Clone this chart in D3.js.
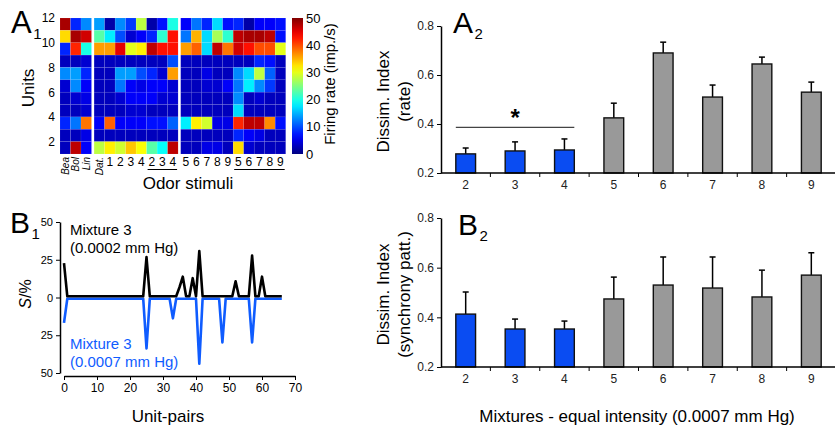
<!DOCTYPE html>
<html><head><meta charset="utf-8">
<script src="https://cdn.jsdelivr.net/npm/d3@7"></script>
<style>
body{margin:0;background:#fff;}
svg{font-family:Arial,"Liberation Sans",sans-serif;}
</style></head><body>
<svg id="fig" width="835" height="430"></svg>
<script>
// A1 heatmap: odor stimuli x units
const stimuli = ["Bea","Bol","Lin","Dat.","1","2","3","4","2","3","4","5","6","7","8","9","5","6","7","8","9"];
const stimulusGroup = [0,0,0,1,1,1,1,1,1,1,1,2,2,2,2,2,2,2,2,2,2];
const units = [11,10,9,8,7,6,5,4,3,2,1];
const firingRates = [
  [48,8,13, 14,2,13,9,28,2,7,20, 6,12,8,17,7,8,2,6,6,7],
  [33,48,46, 23,18,10,4,6,8,21,43, 12,35,17,27,21,47,48,48,47,7],
  [8,42,20, 36,36,45,30,32,47,43,43, 36,39,17,47,38,46,43,40,40,30],
  [3,3,4, 3,3,3,3,3,3,3,10, 3,3,3,3,3,3,3,8,7,3],
  [13,14,8, 3,3,14,14,10,8,4,36, 3,3,5,3,3,13,17,28,11,3],
  [4,13,6, 3,3,12,6,5,6,6,4, 3,3,4,4,6,12,18,13,9,3],
  [3,4,5, 3,3,4,6,6,6,4,4, 3,3,3,3,3,13,3,4,3,3],
  [3,3,4, 3,3,3,4,4,3,3,3, 3,3,3,3,3,17,3,3,3,3],
  [8,12,38, 6,39,6,6,6,7,7,11, 18,32,29,5,5,42,47,47,37,7],
  [3,3,5, 3,3,3,3,3,3,3,3, 3,3,3,3,3,8,6,5,3,3],
  [3,47,6, 28,32,29,34,31,23,19,47, 3,3,5,5,3,33,4,3,3,3]
];
const unitTicks = [2,4,6,8,10,12];
const colorTicks = [0,10,20,30,40,50];

// B1 synchrony per unit pair
const syncLow = [22, 0,0,0,0,0,0,0,0,0,0, 0,0,0,0,0,0,0,0,0,0, 0,0,0,0, 26, 0,0,0,0,0,0,0,0,0,
  6,13,0,0,12,0,30, 0,0,0,0,0,0,0,0,0,0, 10, 0,0,0,0, 27, 0,0, 13, 0,0,0,0,0,0];
const syncHigh = [16, 0,0,0,0,0,0,0,0,0,0, 0,0,0,0,0,0,0,0,0,0, 0,0,0,0, 33, 0,0,0,0,0,0,0, 13,
  0,0,0,0,0,0,0, 43, 0,0,0,0,0,0, 29, 0,0,0,0,0,0,0,0, 29, 0,0,0,0,0,0,0,0,0];
const pairTicks = [0,10,20,30,40,50,60,70];
const sTicks = [-50,-25,0,25,50];

// A2 / B2 dissimilarity indices
const mixtures = ["2","3","4","5","6","7","8","9"];
const rateMean = [0.278,0.29,0.294,0.425,0.69,0.51,0.645,0.53];
const rateSem  = [0.024,0.037,0.045,0.06,0.044,0.049,0.028,0.041];
const syncMean = [0.413,0.353,0.353,0.474,0.53,0.518,0.482,0.57];
const syncSem  = [0.089,0.04,0.032,0.088,0.113,0.125,0.108,0.09];
const dissimTicks = [0.2,0.4,0.6,0.8];

const svg = d3.select("#fig");

function jet(t) {
  const c = v => Math.round(255 * Math.max(0, Math.min(1, v)));
  return `rgb(${c(1.5 - Math.abs(4*t - 3))},${c(1.5 - Math.abs(4*t - 2))},${c(1.5 - Math.abs(4*t - 1))})`;
}
const color = d3.scaleSequential(jet).domain([0, 50]);

function panelLetter(letter, sub, x, y, size) {
  svg.append("text").attr("x", x).attr("y", y).attr("font-size", size).text(letter);
  svg.append("text").attr("x", x + size * 0.72).attr("y", y + 6).attr("font-size", 15).text(sub);
}

// ---------- A1 heatmap ----------
const cw = 10.5, gap = 2.6, hx0 = 60;
const colX = i => hx0 + i * cw + stimulusGroup[i] * gap;
const yUnit = d3.scaleLinear().domain([1, 12]).range([154, 18]);

const hm = svg.append("g");
firingRates.forEach((row, r) => {
  hm.selectAll(null).data(row).enter().append("rect")
    .attr("x", (d, i) => colX(i))
    .attr("y", yUnit(units[r] + 1))
    .attr("width", cw)
    .attr("height", yUnit(units[r]) - yUnit(units[r] + 1))
    .attr("fill", d => color(d))
    .attr("stroke", "rgba(255,255,255,0.15)")
    .attr("stroke-width", 0.5);
});

svg.append("g").attr("transform", "translate(57,0)")
  .call(d3.axisLeft(yUnit).tickValues(unitTicks).tickSize(0).tickPadding(2))
  .call(g => g.select(".domain").remove())
  .call(g => g.selectAll("text").attr("font-size", 12).attr("fill", "#000"));

svg.append("text").attr("transform", "translate(34,88) rotate(-90)")
  .attr("text-anchor", "middle").attr("font-size", 17).text("Units");
panelLetter("A", "1", 11, 33, 31);

// stimulus labels
stimuli.forEach((s, i) => {
  if (i < 4) {
    svg.append("text").attr("transform", `translate(${colX(i) + cw/2 + 3.5},157) rotate(-90)`)
      .attr("text-anchor", "end").attr("font-size", 10).attr("font-style", "italic").text(s);
  } else {
    svg.append("text").attr("x", colX(i) + cw/2).attr("y", 166)
      .attr("text-anchor", "middle").attr("font-size", 12).text(s);
  }
});
[[8, 10], [16, 20]].forEach(([a, b]) => {
  svg.append("line").attr("x1", colX(a) + 1).attr("x2", colX(b) + cw - 1)
    .attr("y1", 169.5).attr("y2", 169.5).attr("stroke", "#000").attr("stroke-width", 1);
});
svg.append("text").attr("x", 188).attr("y", 189).attr("text-anchor", "middle")
  .attr("font-size", 17).text("Odor stimuli");

// colorbar
const defs = svg.append("defs");
const grad = defs.append("linearGradient").attr("id", "jetgrad")
  .attr("x1", 0).attr("y1", 1).attr("x2", 0).attr("y2", 0);
d3.range(0, 1.0001, 0.05).forEach(t => {
  grad.append("stop").attr("offset", t).attr("stop-color", jet(t));
});
const yCb = d3.scaleLinear().domain([0, 50]).range([154, 18]);
svg.append("rect").attr("x", 292).attr("y", yCb(50)).attr("width", 11)
  .attr("height", yCb(0) - yCb(50)).attr("fill", "url(#jetgrad)");
svg.append("g").attr("transform", "translate(305,0)")
  .call(d3.axisRight(yCb).tickValues(colorTicks).tickSize(0).tickPadding(1))
  .call(g => g.select(".domain").remove())
  .call(g => g.selectAll("text").attr("font-size", 13).attr("fill", "#000"));
svg.append("text").attr("transform", "translate(335,84) rotate(-90)")
  .attr("text-anchor", "middle").attr("font-size", 15).text("Firing rate (imp./s)");

// ---------- B1 synchrony lines ----------
const xPair = d3.scaleLinear().domain([0, 70]).range([64, 295]);
const yS = d3.scaleLinear().domain([-50, 50]).range([373, 222]);

svg.append("g").attr("transform", "translate(60,0)")
  .call(d3.axisLeft(yS).tickValues(sTicks).tickSize(4).tickSizeOuter(0).tickFormat(d => Math.abs(d)))
  .call(g => g.select(".domain").attr("stroke-width", 1.5))
  .call(g => g.selectAll("text").attr("font-size", 11).attr("fill", "#000"));
svg.append("g").attr("transform", "translate(0,376)")
  .call(d3.axisBottom(xPair).tickValues(pairTicks).tickSize(4).tickSizeOuter(0))
  .call(g => g.select(".domain").attr("stroke-width", 1.5))
  .call(g => g.selectAll("text").attr("font-size", 12).attr("fill", "#000"));

const lineLow = d3.line().x((d, i) => xPair(i)).y(d => yS(d) - 1.2);
const lineHigh = d3.line().x((d, i) => xPair(i)).y(d => yS(-d) + 1.2);
svg.append("path").datum(syncHigh).attr("d", lineHigh)
  .attr("fill", "none").attr("stroke", "#0f5cff").attr("stroke-width", 2.6).attr("stroke-linejoin", "round");
svg.append("path").datum(syncLow).attr("d", lineLow)
  .attr("fill", "none").attr("stroke", "#000").attr("stroke-width", 2.6).attr("stroke-linejoin", "round");

svg.append("text").attr("x", 70).attr("y", 235).attr("font-size", 15).text("Mixture 3");
svg.append("text").attr("x", 70).attr("y", 253).attr("font-size", 15).text("(0.0002 mm Hg)");
svg.append("text").attr("x", 70).attr("y", 349).attr("font-size", 15).attr("fill", "#0f5cff").text("Mixture 3");
svg.append("text").attr("x", 70).attr("y", 367).attr("font-size", 15).attr("fill", "#0f5cff").text("(0.0007 mm Hg)");

const sLabel = svg.append("text").attr("transform", "translate(31,294) rotate(-90)")
  .attr("text-anchor", "middle").attr("font-size", 16);
sLabel.append("tspan").attr("font-style", "italic").text("S");
sLabel.append("tspan").text("/%");
panelLetter("B", "1", 10, 233, 30);
svg.append("text").attr("x", 168).attr("y", 422).attr("text-anchor", "middle")
  .attr("font-size", 17).text("Unit-pairs");

// ---------- A2 / B2 bar charts ----------
const xMix = d3.scaleBand().domain(mixtures).range([441, 836]).paddingInner(0.6).paddingOuter(0.3);
const barFill = (d, i) => i < 3 ? "#0a4cf2" : "#999999";

function barPanel(means, sems, top, bottom, labelLines, letterPos) {
  const y = d3.scaleLinear().domain([0.2, 0.8]).range([bottom, top]);
  const g = svg.append("g");
  // error bars (upper only)
  means.forEach((m, i) => {
    const cx = xMix(mixtures[i]) + xMix.bandwidth() / 2;
    g.append("line").attr("x1", cx).attr("x2", cx).attr("y1", y(m)).attr("y2", y(m + sems[i]))
      .attr("stroke", "#000").attr("stroke-width", 1.5);
    g.append("line").attr("x1", cx - 3).attr("x2", cx + 3).attr("y1", y(m + sems[i])).attr("y2", y(m + sems[i]))
      .attr("stroke", "#000").attr("stroke-width", 1.5);
  });
  g.selectAll("rect").data(means).enter().append("rect")
    .attr("x", (d, i) => xMix(mixtures[i]))
    .attr("y", d => y(d))
    .attr("width", xMix.bandwidth())
    .attr("height", d => y(0.2) - y(d))
    .attr("fill", barFill)
    .attr("stroke", "#111").attr("stroke-width", 1.4);

  svg.append("g").attr("transform", "translate(441,0)")
    .call(d3.axisLeft(y).tickValues(dissimTicks).tickSize(4).tickSizeOuter(0).tickFormat(d3.format(".1f")))
    .call(a => a.select(".domain").attr("stroke-width", 1.5))
    .call(a => a.selectAll("text").attr("font-size", 12).attr("fill", "#222"));
  const xa = svg.append("g").attr("transform", `translate(0,${bottom})`);
  xa.append("line").attr("x1", 441).attr("x2", 835).attr("stroke", "#000").attr("stroke-width", 1.5);
  const step = xMix.step();
  mixtures.forEach((m, i) => {
    const bx = 441 + step * i;
    if (i > 0) xa.append("line").attr("x1", bx).attr("x2", bx).attr("y2", 4).attr("stroke", "#000");
    xa.append("text").attr("x", xMix(m) + xMix.bandwidth() / 2).attr("y", 16)
      .attr("text-anchor", "middle").attr("font-size", 12).attr("fill", "#222").text(m);
  });

  const cy = (top + bottom) / 2 + 2;
  labelLines.forEach((t, k) => {
    svg.append("text").attr("transform", `translate(${389 + k * 21},${cy}) rotate(-90)`)
      .attr("text-anchor", "middle").attr("font-size", 17).text(t);
  });
  panelLetter(letterPos[0], letterPos[1], letterPos[2], letterPos[3], 30);
  return y;
}

const yRate = barPanel(rateMean, rateSem, 26, 173, ["Dissim. Index", "(rate)"], ["A", "2", 453, 33]);
barPanel(syncMean, syncSem, 218, 367, ["Dissim. Index", "(synchrony patt.)"], ["B", "2", 458, 235]);

// significance bar over mixtures 2-4
svg.append("line")
  .attr("x1", xMix("2")).attr("x2", xMix("4") + xMix.bandwidth())
  .attr("y1", yRate(0.386)).attr("y2", yRate(0.386))
  .attr("stroke", "#444").attr("stroke-width", 1.2);
svg.append("text").attr("x", xMix("3") + xMix.bandwidth() / 2).attr("y", yRate(0.386) - 1)
  .attr("text-anchor", "middle").attr("font-size", 24).attr("font-weight", "bold").text("*");

svg.append("text").attr("x", 637).attr("y", 422).attr("text-anchor", "middle")
  .attr("font-size", 17).text("Mixtures - equal intensity (0.0007 mm Hg)");
</script>
</body></html>
